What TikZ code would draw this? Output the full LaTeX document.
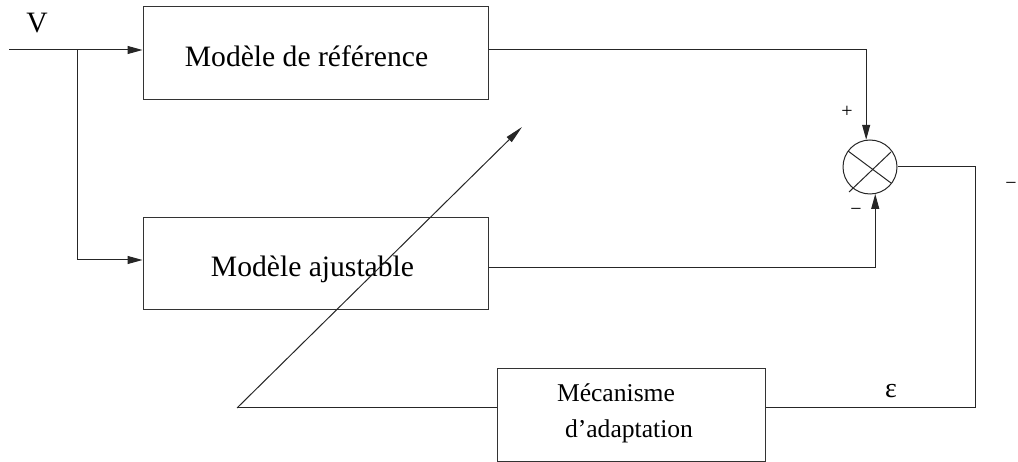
\documentclass[tikz,border=0pt]{standalone}
\usepackage{fontspec}
\setmainfont{Liberation Serif}
\usetikzlibrary{arrows.meta,calc}
\begin{document}
\begin{tikzpicture}[x=1pt,y=-1pt,
  wire/.style={line width=1pt,black!85},
  arr/.style={wire,-{Triangle[length=15pt,width=8pt]}},
  blk/.style={draw=black!80,line width=1pt,rectangle,inner sep=0pt},
  bigtxt/.style={font=\fontsize{29.6}{32}\selectfont,anchor=base,inner sep=0pt},
  midtxt/.style={font=\fontsize{25.6}{28}\selectfont,anchor=base,inner sep=0pt},
  signtxt/.style={font=\fontsize{20}{22}\selectfont,inner sep=0pt}]
\useasboundingbox (0,0) rectangle (1018,462);

% blocks
\node[blk,minimum width=345pt,minimum height=93pt] (ref) at (315.5,53.5) {};
\node[bigtxt] (reftxt) at (306.5,67) {Modèle de référence};
\node[blk,minimum width=345pt,minimum height=92pt] (adj) at (315.5,264) {};
\node[bigtxt] (adjtxt) at (312.5,277) {Modèle ajustable};
\node[blk,minimum width=268pt,minimum height=92pt] (mec) at (631,415) {};
\node[midtxt] (mectxt1) at (616,401.5) {Mécanisme};
\node[midtxt] (mectxt2) at (629,437.5) {d’adaptation};

% comparator
\node[draw=black!85,line width=1pt,circle,minimum size=54pt,inner sep=0pt] (sum) at (870,167) {};
\draw[wire] ([shift={(-22,-16)}]sum.center) -- ([shift={(21,16)}]sum.center);
\draw[wire] ([shift={(-21,25)}]sum.center) -- ([shift={(21,-15)}]sum.center);

% labels
\node[bigtxt] (vlab) at (37,33) {V};
\node[font=\fontsize{28}{30}\selectfont,anchor=base,inner sep=0pt] (eps) at (891,398) {ε};
\node[signtxt] (plus) at (847,112) {+};
\node[signtxt] (minus) at (856,212) {−};
\node[signtxt] (minus2) at (1011,186) {−};

% input and branch
\coordinate (in) at (9,50);
\coordinate (br) at (77,50);
\draw[arr] (in) -- ([yshift=3.5pt]ref.west);
\draw[arr] (br) |- ([yshift=4pt]adj.west);

% model outputs into comparator
\draw[arr] ([yshift=3.5pt]ref.east) -| (sum.98);
\draw[arr] ([yshift=-4pt]adj.east) -| (sum.-79);

% error feedback
\coordinate (rc) at (975,167);
\draw[wire] (sum.east) -- (rc) |- ([yshift=7pt]mec.east);

% adaptation output to adjustable model
\coordinate (low) at (237,408);
\coordinate (tip) at (522,127);
\draw[wire] ([yshift=7pt]mec.west) -- (low);
\draw[wire,-{Triangle[length=18pt,width=7pt]}] (low) -- (tip);
\end{tikzpicture}
\end{document}
